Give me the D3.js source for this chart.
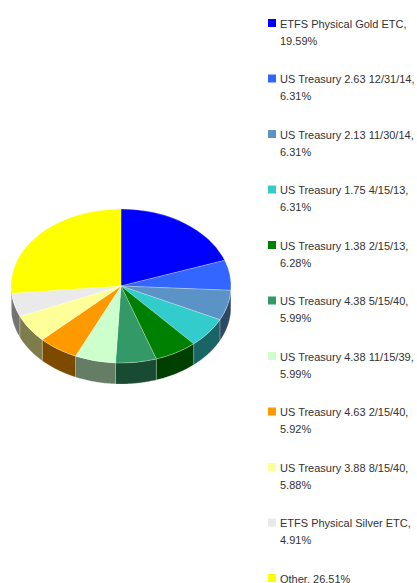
<!DOCTYPE html>
<html>
<head>
<meta charset="utf-8">
<script src="https://cdn.jsdelivr.net/npm/d3@7"></script>
<style>
  body { margin: 0; background: #fff; }
  text { font-family: "Liberation Sans", Arial, sans-serif; font-size: 11px; fill: #333; }
</style>
</head>
<body>
<svg id="chart" width="417" height="583"></svg>
<script>
const names = ["ETFS Physical Gold ETC", "US Treasury 2.63 12/31/14", "US Treasury 2.13 11/30/14",
  "US Treasury 1.75 4/15/13", "US Treasury 1.38 2/15/13", "US Treasury 4.38 5/15/40",
  "US Treasury 4.38 11/15/39", "US Treasury 4.63 2/15/40", "US Treasury 3.88 8/15/40",
  "ETFS Physical Silver ETC", "Other"];
const weights = [19.59, 6.31, 6.31, 6.31, 6.28, 5.99, 5.99, 5.92, 5.88, 4.91, 26.51];
const colors = ["#0000ff", "#3366ff", "#5b93c7", "#33cccc", "#008000", "#339966",
  "#ccffcc", "#ff9900", "#ffff99", "#eaeaea", "#ffff00"];

const data = names.map((n, i) => ({ name: n, value: weights[i], color: colors[i] }));

const svg = d3.select("#chart");
const cx = 121, cy = 286, rx = 110, ry = 77, depth = 21;

const pie = d3.pie().sort(null).value(d => d.value);
const arcs = pie(data);

const g = svg.append("g").attr("transform", "translate(" + cx + "," + cy + ")");

// side walls: only the front half (angles between PI/2 and 3PI/2) is visible
const wall = d3.area()
  .x(a => rx * Math.sin(a))
  .y0(a => -ry * Math.cos(a))
  .y1(a => -ry * Math.cos(a) + depth);

arcs.forEach(d => {
  const a0 = Math.max(d.startAngle, Math.PI / 2);
  const a1 = Math.min(d.endAngle, Math.PI * 1.5);
  if (a1 <= a0) return;
  const steps = d3.range(a0, a1, 0.01).concat([a1]);
  g.append("path")
    .attr("d", wall(steps))
    .attr("fill", d3.color(d.data.color).darker(2))
    .attr("stroke", "rgba(255,255,255,0.35)")
    .attr("stroke-width", 0.6);
});

// top face
const arc = d3.arc().innerRadius(0).outerRadius(rx);
g.append("g")
  .attr("transform", "scale(1," + (ry / rx) + ")")
  .selectAll("path")
  .data(arcs)
  .enter().append("path")
    .attr("d", arc)
    .attr("fill", d => d.data.color)
    .attr("stroke", "rgba(255,255,255,0.4)")
    .attr("stroke-width", 0.6)
    .attr("vector-effect", "non-scaling-stroke");

// legend
const legend = svg.append("g").attr("transform", "translate(268,19)");
const item = legend.selectAll("g")
  .data(data)
  .enter().append("g")
    .attr("transform", (d, i) => "translate(0," + (i * 55.5) + ")");

item.append("rect")
  .attr("width", 8).attr("height", 8)
  .attr("fill", d => d.color);

item.each(function(d) {
  const t = d3.select(this).append("text").attr("x", 12).attr("y", 8.5);
  const full = d.name + ", " + d3.format(".2f")(d.value) + "%";
  t.text(full);
  if (t.node().getComputedTextLength() > 417 - 280) {
    t.text(null);
    t.append("tspan").attr("x", 12).text(d.name + ",");
    t.append("tspan").attr("x", 12).attr("dy", 17).text(d3.format(".2f")(d.value) + "%");
  }
});
</script>
</body>
</html>
